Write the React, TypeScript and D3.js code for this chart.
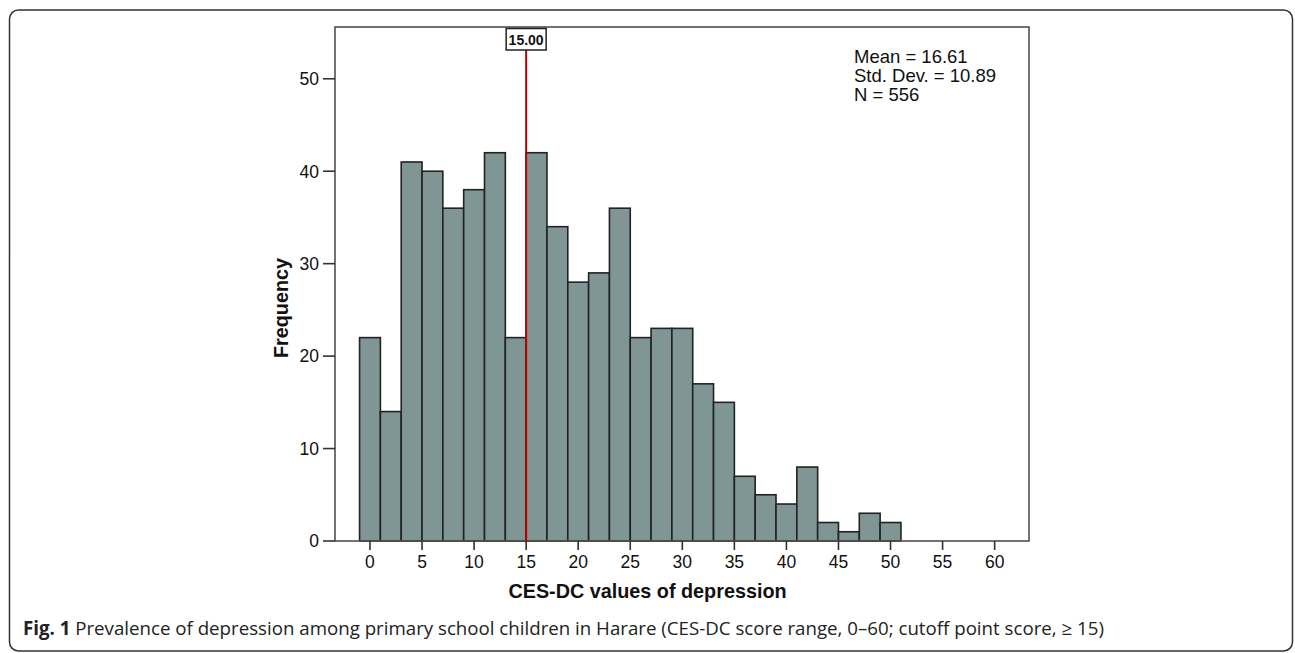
import React from "react";
import * as d3 from "d3";

const binStarts = [-1, 1, 3, 5, 7, 9, 11, 13, 15, 17, 19, 21, 23, 25, 27, 29, 31, 33, 35, 37, 39, 41, 43, 45, 47, 49];
const binWidth = 2;
const frequencies = [22, 14, 41, 40, 36, 38, 42, 22, 42, 34, 28, 29, 36, 22, 23, 23, 17, 15, 7, 5, 4, 8, 2, 1, 3, 2];
const xTicks = [0, 5, 10, 15, 20, 25, 30, 35, 40, 45, 50, 55, 60];
const yTicks = [0, 10, 20, 30, 40, 50];
const cutoff = 15;
const statsLines = ["Mean = 16.61", "Std. Dev. = 10.89", "N = 556"];
const xTitle = "CES-DC values of depression";
const yTitle = "Frequency";
const captionBold = "Fig. 1";
const captionText = " Prevalence of depression among primary school children in Harare (CES-DC score range, 0–60; cutoff point score, ≥ 15)";

const W = 1295;
const H = 653;
const plot = { left: 335, right: 1029, top: 27, bottom: 541 };
const chartFont = "'Liberation Sans', Arial, sans-serif";

export default function App() {
  const x = d3.scaleLinear().domain([-3.36, 63.3]).range([plot.left, plot.right]);
  const y = d3.scaleLinear().domain([0, 55.6]).range([plot.bottom, plot.top]);
  const bins = binStarts.map((s, i) => ({ x0: s, x1: s + binWidth, v: frequencies[i] }));
  const cx = x(cutoff);

  return (
    <svg width={W} height={H} style={{ position: "absolute", left: 0, top: 0, background: "#fff" }}>
      <rect x={9.5} y={10} width={1283} height={641} rx={9} ry={9} fill="#fff" stroke="#333" strokeWidth={1.5} />
      {/* bars */}
      {bins.map((b, i) => (
        <rect
          key={i}
          x={x(b.x0)}
          y={y(b.v)}
          width={x(b.x1) - x(b.x0)}
          height={y(0) - y(b.v)}
          fill="#809694"
          stroke="#222"
          strokeWidth={1.6}
        />
      ))}
      {/* plot frame */}
      <rect
        x={plot.left}
        y={plot.top}
        width={plot.right - plot.left}
        height={plot.bottom - plot.top}
        fill="none"
        stroke="#505050"
        strokeWidth={1.6}
      />
      {/* cutoff line */}
      <line x1={cx} x2={cx} y1={50} y2={plot.bottom} stroke="#c00000" strokeWidth={2} />
      <rect x={cx - 20} y={28.5} width={40} height={21.5} fill="#fff" stroke="#222" strokeWidth={1.5} />
      <text x={cx} y={45} textAnchor="middle" fontFamily={chartFont} fontWeight="bold" fontSize={14} fill="#111">
        {cutoff.toFixed(2)}
      </text>
      {/* y axis */}
      {yTicks.map((t) => (
        <g key={t}>
          <line x1={plot.left - 12} x2={plot.left} y1={y(t)} y2={y(t)} stroke="#333" strokeWidth={1.6} />
          <text x={plot.left - 16} y={y(t) + 6.3} textAnchor="end" fontFamily={chartFont} fontSize={17.5} fill="#111">
            {t}
          </text>
        </g>
      ))}
      {/* x axis */}
      {xTicks.map((t) => (
        <g key={t}>
          <line x1={x(t)} x2={x(t)} y1={plot.bottom} y2={plot.bottom + 9} stroke="#333" strokeWidth={1.6} />
          <text x={x(t)} y={568} textAnchor="middle" fontFamily={chartFont} fontSize={17.5} fill="#111">
            {t}
          </text>
        </g>
      ))}
      <text x={647.5} y={598} textAnchor="middle" fontFamily={chartFont} fontWeight="bold" fontSize={19.8} fill="#111">
        {xTitle}
      </text>
      <text
        transform={`translate(288, ${(plot.top + plot.bottom) / 2 + 24}) rotate(-90)`}
        textAnchor="middle"
        fontFamily={chartFont}
        fontWeight="bold"
        fontSize={19.8}
        fill="#111"
      >
        {yTitle}
      </text>
      {/* stats */}
      {statsLines.map((s, i) => (
        <text key={i} x={854} y={63 + i * 19} fontFamily={chartFont} fontSize={18.5} fill="#111">
          {s}
        </text>
      ))}
      {/* caption */}
      <text x={23} y={635} fontFamily="'Open Sans', 'Noto Sans', sans-serif" fontSize={18.7} fill="#222">
        <tspan fontWeight="bold">{captionBold}</tspan>
        <tspan>{captionText}</tspan>
      </text>
    </svg>
  );
}
